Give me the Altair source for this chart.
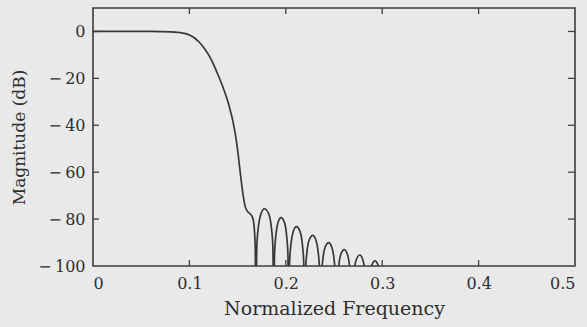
import altair as alt
import pandas as pd

# ---- data ----
freq = [0.000, 0.020, 0.040, 0.060, 0.070, 0.080, 0.085, 0.090, 0.095, 0.100,
        0.105, 0.110, 0.115, 0.120, 0.125, 0.130, 0.135, 0.140, 0.1425, 0.145,
        0.1475, 0.150, 0.152, 0.154, 0.156, 0.158, 0.160, 0.1625, 0.165, 0.1665,
        0.1675, 0.1683, 0.1690,
        # side lobe 1
        0.16993, 0.17178, 0.17455, 0.1778, 0.18195, 0.18473, 0.18658, 0.1875,
        # side lobe 2
        0.18828, 0.18983, 0.19215, 0.1950, 0.19835, 0.20068, 0.20223, 0.2030,
        # side lobe 3
        0.20383, 0.20548, 0.20795, 0.2110, 0.21455, 0.21703, 0.21868, 0.2195,
        # side lobe 4
        0.22033, 0.22198, 0.22445, 0.2280, 0.23105, 0.23353, 0.23518, 0.2360,
        # side lobe 5
        0.23683, 0.23848, 0.24095, 0.2445, 0.24755, 0.25003, 0.25168, 0.2525,
        # side lobe 6
        0.2533, 0.2549, 0.2573, 0.2606, 0.2637, 0.2661, 0.2677, 0.2685,
        # side lobe 7
        0.2693, 0.2709, 0.2733, 0.2768, 0.2797, 0.2821, 0.2837, 0.2845,
        # side lobe 8
        0.2853, 0.2869, 0.2893, 0.2925, 0.2957, 0.2981, 0.2997, 0.3005]
mag = [0.0, 0.0, 0.0, 0.0, -0.05, -0.15, -0.25, -0.45, -0.8, -1.5,
       -2.7, -4.5, -6.9, -10.0, -14.0, -18.8, -24.0, -30.0, -33.8, -38.0,
       -43.5, -50.5, -57.5, -64.5, -70.5, -74.8, -76.6, -77.6, -78.8, -81.0,
       -85.0, -92.0, -120.0,
       -91.7, -82.6, -77.4, -75.6, -77.4, -82.6, -91.7, -120.0,
       -95.5, -86.4, -81.2, -79.4, -81.2, -86.4, -95.5, -120.0,
       -99.3, -90.2, -85.0, -83.2, -85.0, -90.2, -99.3, -120.0,
       -103.0, -93.9, -88.7, -86.9, -88.7, -93.9, -103.0, -120.0,
       -106.1, -97.0, -91.8, -90.0, -91.8, -97.0, -106.1, -120.0,
       -109.1, -100.0, -94.8, -93.0, -94.8, -100.0, -109.1, -120.0,
       -111.4, -102.3, -97.1, -95.3, -97.1, -102.3, -111.4, -120.0,
       -113.9, -104.8, -99.6, -97.8, -99.6, -104.8, -113.9, -120.0]

x_ticks = [0.0, 0.1, 0.2, 0.3, 0.4, 0.5]
y_ticks = [-100, -80, -60, -40, -20, 0]
x_inner = [0.1, 0.2, 0.3, 0.4]
y_inner = [-80, -60, -40, -20, 0]

W, H = 482, 258
INK = "#2e2e2e"
FONT = "DejaVu Serif"

df = pd.DataFrame({"f": freq, "m": mag})
xs = alt.Scale(domain=[0, 0.5], nice=False)
ys = alt.Scale(domain=[-100, 10], nice=False)

curve = alt.Chart(df).mark_line(color="#383838", strokeWidth=1.7, clip=True,
                                interpolate="monotone").encode(
    x=alt.X("f:Q", scale=xs,
            axis=alt.Axis(title="Normalized Frequency", values=x_ticks,
                          labelExpr="datum.value == 0 ? '0' : format(datum.value, '.1f')",
                          ticks=False, tickSize=0, domain=False, grid=False,
                          labelPadding=9, titlePadding=8, labelOverlap=False,
                          labelFontSize=16, titleFontSize=19, titleFontWeight="normal")),
    y=alt.Y("m:Q", scale=ys,
            axis=alt.Axis(title="Magnitude (dB)", values=y_ticks,
                          labelExpr="datum.value < 0 ? '\u2212\u2009' + format(-datum.value, 'd') : '0'",
                          ticks=False, tickSize=0, domain=False, grid=False,
                          labelPadding=8, titlePadding=9, labelOverlap=False,
                          labelFontSize=16, titleFontSize=17, titleFontWeight="normal")),
)

xt = pd.DataFrame({"f": x_inner})
yt = pd.DataFrame({"m": y_inner})
tick_style = dict(color="#404040", strokeWidth=1.3)

bottom = alt.Chart(xt).mark_rule(**tick_style).encode(
    x=alt.X("f:Q", scale=xs), y=alt.value(H), y2=alt.value(H - 6))
top = alt.Chart(xt).mark_rule(**tick_style).encode(
    x=alt.X("f:Q", scale=xs), y=alt.value(0), y2=alt.value(6))
left = alt.Chart(yt).mark_rule(**tick_style).encode(
    y=alt.Y("m:Q", scale=ys), x=alt.value(0), x2=alt.value(6))
right = alt.Chart(yt).mark_rule(**tick_style).encode(
    y=alt.Y("m:Q", scale=ys), x=alt.value(W), x2=alt.value(W - 7))

chart = alt.layer(curve, bottom, top, left, right).properties(
    width=W, height=H,
    padding={"left": 93, "top": 8, "right": 12, "bottom": 61},
    autosize=alt.AutoSizeParams(type="none"),
).configure(background="#e9e9e9").configure_view(
    stroke="#3c3c3c", strokeWidth=1.6
).configure_axis(
    labelFont=FONT, titleFont=FONT, labelColor=INK, titleColor=INK
)

chart.save("out.html", embed_options={"renderer": "svg", "actions": False})
